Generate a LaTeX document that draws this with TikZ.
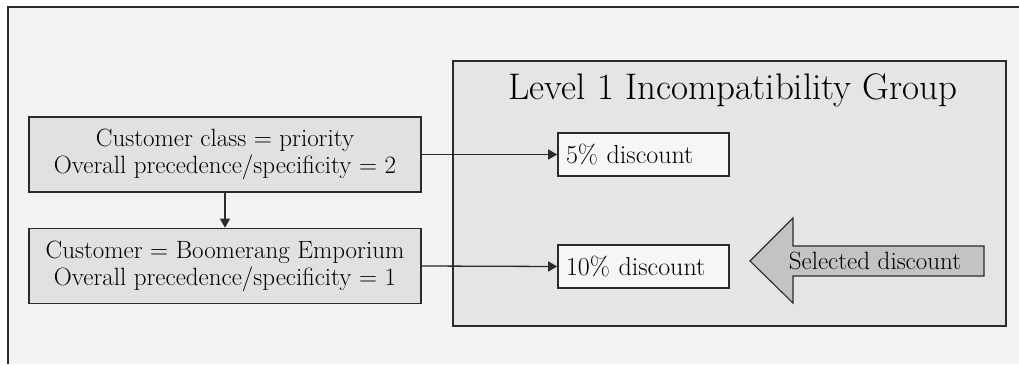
\documentclass[tikz,border=0pt]{standalone}
\usetikzlibrary{arrows.meta}
\definecolor{pagebg}{HTML}{F3F3F3}
\definecolor{groupbg}{HTML}{E5E5E5}
\definecolor{rulebg}{HTML}{E1E1E1}
\definecolor{itembg}{HTML}{F6F6F6}
\definecolor{pointerbg}{HTML}{C3C3C3}
\definecolor{edge}{HTML}{2B2B2B}
\tikzset{
  frameline/.style={draw=edge, line width=1.6pt},
  rulebox/.style={frameline, fill=rulebg, minimum width=392pt, minimum height=75pt,
    inner sep=0pt, align=center, font=\fontsize{25}{27}\selectfont},
  itembox/.style={frameline, fill=itembg, minimum width=171pt, minimum height=43pt,
    inner sep=0pt, font=\fontsize{26}{28}\selectfont},
  link/.style={draw=edge, line width=1.3pt, -{Triangle[length=9pt,width=10pt]}},
}
\begin{document}
\begin{tikzpicture}[x=1pt,y=-1pt]
  \useasboundingbox (0,0) rectangle (1019,364);
  % page background and the two visible edges of the outer frame
  \fill[white] (0,0) rectangle (1019,364);
  \fill[pagebg] (8,7) rectangle (1019,364);
  \draw[frameline] (8,364) -- (8,7) -- (1019,7);

  % incompatibility group
  \node[frameline, fill=groupbg, minimum width=553pt, minimum height=265pt, inner sep=0pt,
        anchor=north west] (grp) at (452,60) {};
  \node[font=\fontsize{37}{40}\selectfont, anchor=base] (title) at (733,99)
        {Level 1 Incompatibility Group};

  % pricing rules
  \node[rulebox] (c1) at (225,154.5) {Customer class = priority\\Overall precedence/specificity = 2};
  \node[rulebox] (c2) at (225,266) {Customer = Boomerang Emporium\\Overall precedence/specificity = 1};

  % discounts inside the group
  \node[itembox, text width=155pt, align=left] (d5) at (643.5,154.5) {5\% discount};
  \node[itembox, text width=155pt, align=left] (d10) at (643.5,266.5) {10\% discount};

  % connectors
  \draw[link] (c1.south) -- (c2.north);
  \draw[link] (c1.east) -- (d5.west);
  \draw[link] (c2.east) -- (d10.west);

  % selection pointer
  \draw[draw=edge, line width=1.1pt, fill=pointerbg, line join=miter]
    (750,261) -- (793,218) -- (793,246) -- (984,246) -- (984,276) -- (793,276) -- (793,303) -- cycle;
  \node[font=\fontsize{25}{27}\selectfont, inner sep=0pt] (sel) at (875,261) {Selected discount};
\end{tikzpicture}
\end{document}
